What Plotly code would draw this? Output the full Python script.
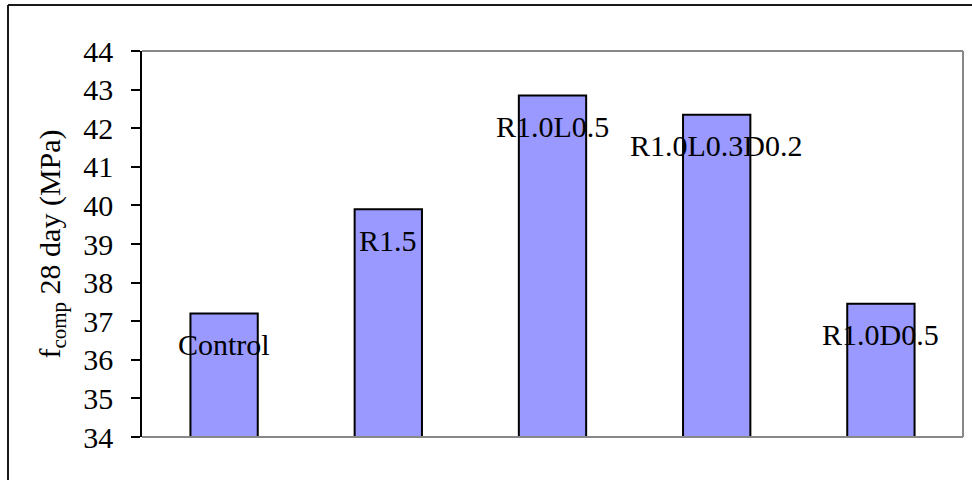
import plotly.graph_objects as go

# 28-day compressive strength per mix
mixes = ["Control", "R1.5", "R1.0L0.5", "R1.0L0.3D0.2", "R1.0D0.5"]
strength_mpa = [37.2, 39.9, 42.85, 42.35, 37.45]

y_ticks = [34, 35, 36, 37, 38, 39, 40, 41, 42, 43, 44]

W, H = 972, 480
# plot area in pixels
PL, PR, PT, PB = 142, 963, 51, 437

SERIF = "Times New Roman, Liberation Serif, serif"
FS = 30

fig = go.Figure()
fig.add_trace(go.Bar(
    x=mixes,
    y=strength_mpa,
    marker=dict(color="#9999FF", line=dict(color="#000000", width=2)),
    width=0.41,
    hoverinfo="x+y",
))

# data labels sit just below each bar's top
for name, val in zip(mixes, strength_mpa):
    fig.add_annotation(
        x=name, y=val, text=name, showarrow=False,
        xanchor="center", yanchor="middle", yshift=-31,
        font=dict(family="serif", size=FS, color="#000000"),
    )


def px_x(p):
    return (p - PL) / (PR - PL)


def px_y(p):
    return (PB - p) / (PB - PT)


shapes = [
    # plot frame: top, right, bottom in grey
    dict(type="line", xref="paper", yref="paper", x0=0, x1=1, y0=1, y1=1,
         line=dict(color="#888888", width=2)),
    dict(type="line", xref="paper", yref="paper", x0=1, x1=1, y0=0, y1=1,
         line=dict(color="#888888", width=2)),
    dict(type="line", xref="paper", yref="paper", x0=0, x1=1, y0=0, y1=0,
         line=dict(color="#888888", width=2)),
    # outer chart border (left and top edges)
    dict(type="line", xref="paper", yref="paper",
         x0=px_x(8), x1=px_x(8), y0=px_y(H + 10), y1=px_y(5),
         line=dict(color="#1a1a1a", width=2)),
    dict(type="line", xref="paper", yref="paper",
         x0=px_x(8), x1=px_x(W + 10), y0=px_y(5), y1=px_y(5),
         line=dict(color="#1a1a1a", width=2)),
]

fig.update_layout(
    width=W, height=H,
    margin=dict(l=PL, r=W - PR, t=PT, b=H - PB, pad=0),
    paper_bgcolor="#ffffff",
    plot_bgcolor="#ffffff",
    showlegend=False,
    shapes=shapes,
    font=dict(family=SERIF, size=FS, color="#000000"),
    xaxis=dict(
        showticklabels=False, ticks="", showgrid=False, zeroline=False,
        showline=False,
    ),
    yaxis=dict(
        range=[34, 44], tickvals=y_ticks, ticktext=[str(t) for t in y_ticks],
        ticks="outside", ticklen=9, tickwidth=1.5, tickcolor="#000000",
        showline=True, linecolor="#000000", linewidth=1.5,
        showgrid=False, zeroline=False,
        tickfont=dict(family=SERIF, size=FS, color="#000000"),
        ticklabelstandoff=12,
        title=dict(
            text="f<sub>comp</sub> 28 day (MPa)",
            font=dict(family=SERIF, size=FS, color="#000000"),
            standoff=14,
        ),
    ),
)

fig.write_html("out.html")
